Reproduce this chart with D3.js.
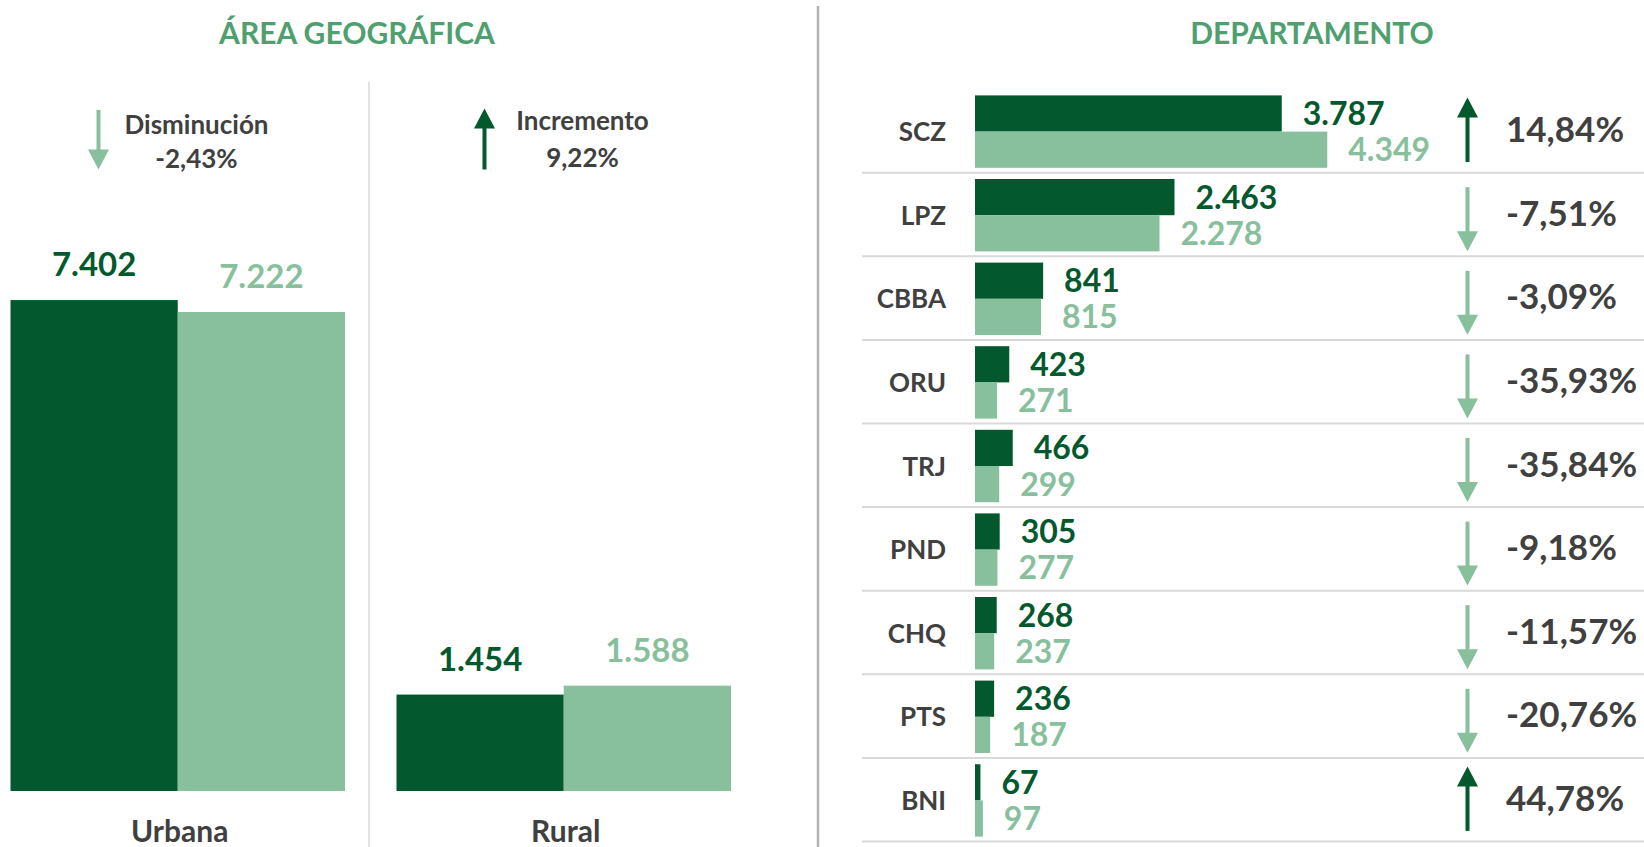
<!DOCTYPE html>
<html>
<head>
<meta charset="utf-8">
<script src="https://cdn.jsdelivr.net/npm/d3@7"></script>
<style>
  html, body { margin: 0; padding: 0; background: #ffffff; overflow: hidden; }
  svg { display: block; font-family: Lato, "Open Sans", sans-serif; font-weight: 700; }
</style>
</head>
<body>
<svg id="chart" width="1644" height="847"></svg>
<script>
// ---------- data ----------
const areaTitle = "ÁREA GEOGRÁFICA";
const deptTitle = "DEPARTAMENTO";
const seriesKeys = ["prev", "curr"];

const areaCats = ["Urbana", "Rural"];
const areaPrev = [7402, 1454];
const areaCurr = [7222, 1588];
const areaChangeText = ["Disminución", "Incremento"];
const areaChangePct = ["-2,43%", "9,22%"];

const deptCats = ["SCZ", "LPZ", "CBBA", "ORU", "TRJ", "PND", "CHQ", "PTS", "BNI"];
const deptPrev = [3787, 2463, 841, 423, 466, 305, 268, 236, 67];
const deptCurr = [4349, 2278, 815, 271, 299, 277, 237, 187, 97];
const deptPct = ["14,84%", "-7,51%", "-3,09%", "-35,93%", "-35,84%", "-9,18%", "-11,57%", "-20,76%", "44,78%"];

// ---------- styles ----------
const DARK = "#03592d";
const LIGHT = "#88bf9d";
const TITLE = "#4f9f70";
const TEXT = "#404040";
const color = d3.scaleOrdinal().domain(seriesKeys).range([DARK, LIGHT]);

const locale = d3.formatLocale({decimal: ",", thousands: ".", grouping: [3], currency: ["", ""]});
const fmt = locale.format(",d");

const svg = d3.select("#chart");

function arrow(g, x, yTop, yBottom, up, col) {
  const headH = 20, headW = 21;
  if (up) {
    g.append("line").attr("x1", x).attr("x2", x).attr("y1", yTop + headH - 1).attr("y2", yBottom)
      .attr("stroke", col).attr("stroke-width", 4);
    g.append("path").attr("d", `M${x},${yTop} L${x + headW / 2},${yTop + headH} L${x - headW / 2},${yTop + headH} Z`)
      .attr("fill", col);
  } else {
    g.append("line").attr("x1", x).attr("x2", x).attr("y1", yTop).attr("y2", yBottom - headH + 1)
      .attr("stroke", col).attr("stroke-width", 4);
    g.append("path").attr("d", `M${x},${yBottom} L${x + headW / 2},${yBottom - headH} L${x - headW / 2},${yBottom - headH} Z`)
      .attr("fill", col);
  }
}

// ---------- dividers ----------
svg.append("line").attr("x1", 818).attr("x2", 818).attr("y1", 6).attr("y2", 847)
  .attr("stroke", "#b3b3b3").attr("stroke-width", 2.5);
svg.append("line").attr("x1", 369).attr("x2", 369).attr("y1", 82).attr("y2", 847)
  .attr("stroke", "#e3e3e3").attr("stroke-width", 2);

// ---------- left panel ----------
svg.append("text").attr("x", 357).attr("y", 44).attr("text-anchor", "middle")
  .attr("font-size", 30).attr("fill", TITLE).text(areaTitle);

const areaData = areaCats.map((c, i) => ({cat: c, prev: areaPrev[i], curr: areaCurr[i], txt: areaChangeText[i], pct: areaChangePct[i]}));

const x0 = d3.scaleBand().domain(areaCats).range([10.5, 731]).paddingInner(0.1334).paddingOuter(0);
const x1 = d3.scaleBand().domain(seriesKeys).range([0, x0.bandwidth()]).padding(0);
const yA = d3.scaleLinear().domain([0, 8000]).range([791, 791 - 530.6]);

const groups = svg.append("g").selectAll("g").data(areaData).join("g")
  .attr("transform", d => `translate(${x0(d.cat)},0)`);

groups.selectAll("rect").data(d => seriesKeys.map(k => ({key: k, value: d[k]}))).join("rect")
  .attr("x", d => x1(d.key)).attr("width", x1.bandwidth())
  .attr("y", d => yA(d.value)).attr("height", d => yA(0) - yA(d.value))
  .attr("fill", d => color(d.key));

groups.selectAll("text.val").data(d => seriesKeys.map(k => ({key: k, value: d[k]}))).join("text")
  .attr("class", "val")
  .attr("x", d => x1(d.key) + x1.bandwidth() / 2).attr("y", d => yA(d.value) - 24)
  .attr("text-anchor", "middle").attr("font-size", 33).attr("fill", d => color(d.key))
  .text(d => fmt(d.value));

groups.append("text").attr("x", x0.bandwidth() / 2 + 2).attr("y", 842).attr("text-anchor", "middle")
  .attr("font-size", 30).attr("fill", TEXT).text(d => d.cat);

groups.each(function(d) {
  const g = d3.select(this);
  const up = d.curr > d.prev;
  arrow(g, 88, up ? 108.5 : 110, 169.5, up, up ? DARK : LIGHT);
  g.append("text").attr("x", 186).attr("y", up ? 129.5 : 134).attr("text-anchor", "middle")
    .attr("font-size", 26).attr("fill", TEXT).text(d.txt);
  g.append("text").attr("x", 186).attr("y", up ? 166.5 : 168).attr("text-anchor", "middle")
    .attr("font-size", 26).attr("fill", TEXT).text(d.pct);
});

// ---------- right panel ----------
svg.append("text").attr("x", 1312).attr("y", 44).attr("text-anchor", "middle")
  .attr("font-size", 30).attr("fill", TITLE).text(deptTitle);

const deptData = deptCats.map((c, i) => ({cat: c, prev: deptPrev[i], curr: deptCurr[i], pct: deptPct[i]}));

const yR = d3.scaleBand().domain(deptCats).range([89.1, 89.1 + 9 * 83.6]).padding(0);
const yR1 = d3.scaleBand().domain(seriesKeys).range([6.3, 78.7]).padding(0);
const xR = d3.scaleLinear().domain([0, 5000]).range([975, 975 + 405]);

const rows = svg.append("g").selectAll("g").data(deptData).join("g")
  .attr("transform", d => `translate(0,${yR(d.cat)})`);

rows.append("line").attr("x1", 862).attr("x2", 1644)
  .attr("y1", yR.bandwidth()).attr("y2", yR.bandwidth())
  .attr("stroke", "#d9d9d9").attr("stroke-width", 2);

rows.selectAll("rect").data(d => seriesKeys.map(k => ({key: k, value: d[k]}))).join("rect")
  .attr("x", xR(0)).attr("width", d => xR(d.value) - xR(0))
  .attr("y", d => yR1(d.key)).attr("height", yR1.bandwidth())
  .attr("fill", d => color(d.key));

rows.selectAll("text.val").data(d => seriesKeys.map(k => ({key: k, value: d[k]}))).join("text")
  .attr("class", "val")
  .attr("x", d => xR(d.value) + 21)
  .attr("y", d => yR1(d.key) + yR1.bandwidth() / 2 + 11.5)
  .attr("font-size", 32).attr("fill", d => color(d.key))
  .text(d => fmt(d.value));

rows.append("text").attr("x", 946).attr("y", 52).attr("text-anchor", "end")
  .attr("font-size", 26).attr("fill", TEXT).text(d => d.cat);

rows.each(function(d) {
  const g = d3.select(this);
  const up = d.curr > d.prev;
  if (up) arrow(g, 1467.5, 8.5, 73, true, DARK);
  else arrow(g, 1467.5, 14.5, 78.5, false, LIGHT);
});

rows.append("text").attr("x", 1506).attr("y", 53)
  .attr("font-size", 35).attr("fill", TEXT).text(d => d.pct);
</script>
</body>
</html>
